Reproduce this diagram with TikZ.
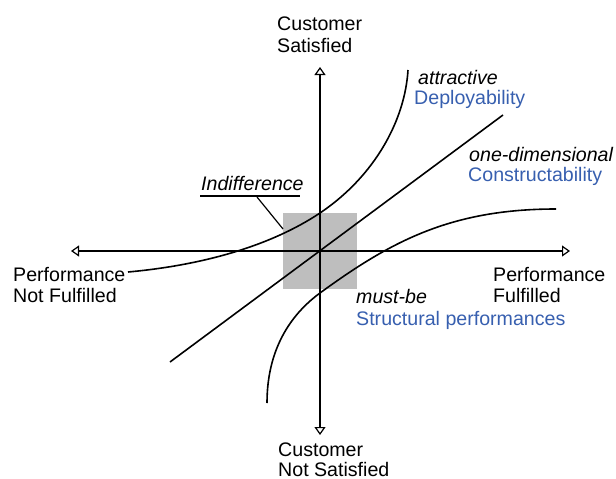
\documentclass[tikz,border=0pt]{standalone}
\usepackage{fontspec}
\setmainfont{Liberation Sans}
\usetikzlibrary{arrows.meta}
\definecolor{lblue}{RGB}{55,95,175}
\definecolor{boxgray}{RGB}{190,190,190}
\begin{document}
\begin{tikzpicture}[x=1pt,y=-1pt,
  lbl/.style={inner sep=0pt,anchor=base west,font=\fontsize{19.6}{22}\selectfont},
  ital/.style={lbl,font=\fontsize{19.6}{22}\selectfont\itshape},
  blu/.style={lbl,text=lblue},
  axis/.style={line width=1.3pt,-{Triangle[open,length=8pt,width=11pt,line width=1.2pt]}},
  curve/.style={line width=1.6pt}]
\useasboundingbox (0,0) rectangle (616,479);
% gray indifference square
\fill[boxgray] (283,213) rectangle (357,289);
% axes
\coordinate (o) at (320,251);
\coordinate (top) at (320,67);
\coordinate (bot) at (320,435);
\coordinate (lft) at (71,251);
\coordinate (rgt) at (570,251);
\draw[axis] (o) -- (top);
\draw[axis] (o) -- (bot);
\draw[axis] (o) -- (lft);
\draw[axis] (o) -- (rgt);
% one-dimensional line
\coordinate (l1) at (170,362);
\coordinate (l2) at (503,115);
\draw[curve] (l1) -- (l2);
% attractive curve
\coordinate (a0) at (128,272);
\coordinate (a1) at (320,213);
\coordinate (a2) at (408,70);
\draw[curve] (a0) .. controls (205,265) and (272,245) .. (a1)
                  .. controls (375,176) and (405,120) .. (a2);
% must-be curve
\coordinate (m0) at (267,403);
\coordinate (m1) at (320,293);
\coordinate (m2) at (556,209);
\draw[curve] (m0) .. controls (267,350) and (290,315) .. (m1)
                  .. controls (390,242) and (450,209) .. (m2);
% indifference label
\node[ital] (ind) at (201,190) {Indifference};
\coordinate (ul1) at (200,196);
\coordinate (ul2) at (300,196);
\draw[line width=1.3pt] (ul1) -- (ul2);
\coordinate (ld1) at (257,197);
\coordinate (ld2) at (283,229);
\draw[line width=1.2pt] (ld1) -- (ld2);
% axis labels
\node[lbl] (cs1) at (277,30) {Customer};
\node[lbl] (cs2) at (277,52) {Satisfied};
\node[lbl] (cn1) at (278,456) {Customer};
\node[lbl] (cn2) at (278,476) {Not Satisfied};
\node[lbl] (pn1) at (13,281) {Performance};
\node[lbl] (pn2) at (13,302) {Not Fulfilled};
\node[lbl] (pf1) at (493,281) {Performance};
\node[lbl] (pf2) at (493,302) {Fulfilled};
% category labels
\node[ital] (att) at (418,84) {attractive};
\node[blu] (dep) at (414,104) {Deployability};
\node[ital] (one) at (469,161) {one-dimensional};
\node[blu] (con) at (468,181) {Constructability};
\node[ital] (mb) at (356,303) {must-be};
\node[blu] (sp) at (356,325) {Structural performances};
\end{tikzpicture}
\end{document}
